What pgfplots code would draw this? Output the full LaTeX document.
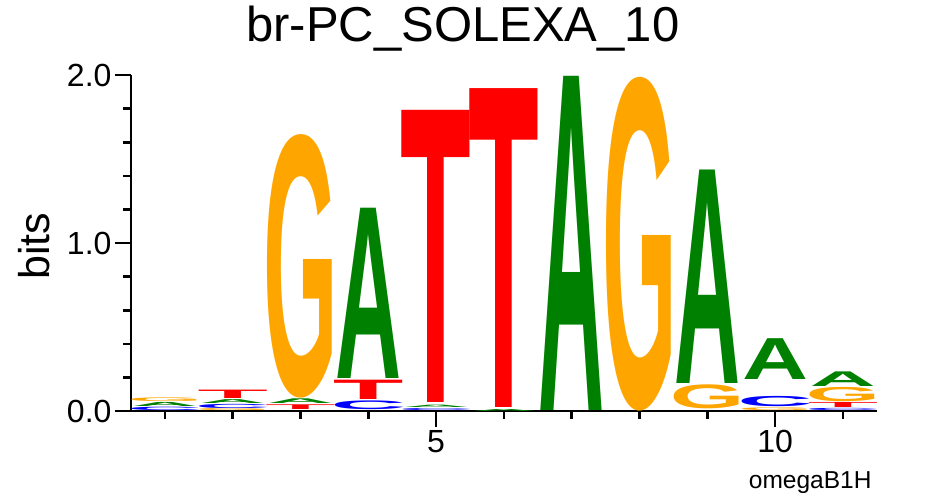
\documentclass[border=0pt]{standalone}
\usepackage{fontspec}
\setmainfont{Liberation Sans}
\usepackage{graphicx}
\usepackage{pgfplots}
\usepackage{pgfplotstable}
\pgfplotsset{compat=1.18}
\definecolor{lgreen}{RGB}{0,128,0}
\definecolor{lorange}{RGB}{255,165,0}
\definecolor{lred}{RGB}{255,0,0}
\definecolor{lblue}{RGB}{0,0,255}

% x = position, y = base of the letter (bits), h = letter height (bits)
\pgfplotstableread{
x y h
1 0.026 0.024
2 0.045 0.023
3 0.042 0.028
4 0.195 1.013
5 0.022 0.014
6 0.000 0.012
7 0.000 1.988
9 0.165 1.270
10 0.185 0.243
11 0.148 0.087
}\tabA
\pgfplotstableread{
x y h
1 0.000 0.020
2 0.015 0.025
4 0.008 0.052
5 0.000 0.012
10 0.024 0.061
11 0.000 0.013
}\tabC
\pgfplotstableread{
x y h
1 0.056 0.022
2 0.000 0.012
3 0.078 1.565
8 0.000 1.982
9 0.012 0.143
10 0.000 0.016
11 0.055 0.085
}\tabG
\pgfplotstableread{
x y h
2 0.075 0.050
3 0.008 0.028
4 0.070 0.115
5 0.048 1.738
6 0.020 1.897
11 0.020 0.030
}\tabT

\newcommand\logoletter[3]{%
  \pgfmathsetlengthmacro\hh{max(\hval*168,0.5)*1pt}%
  \resizebox*{66pt}{\hh}{\color{#2}\bfseries\kern#3#1\kern#3}}

\pgfplotsset{
  logo/.style n args={3}{
    only marks, mark=none,
    visualization depends on={\thisrow{h}\as\hval},
    nodes near coords={\logoletter{#1}{#2}{#3}},
    every node near coord/.append style={anchor=south, inner sep=0pt, outer sep=0pt},
  }
}

\begin{document}
\begin{tikzpicture}
\begin{axis}[
  x=67.8pt, y=168pt,
  xmin=0.5, xmax=11.5, ymin=0, ymax=2,
  axis x line*=bottom, axis y line*=left,
  axis line style={line width=2.8pt, black},
  tick style={line width=2.6pt, black},
  tick align=outside,
  major tick length=16pt, minor tick length=8pt,
  ytick={0,1,2}, yticklabels={0.0,1.0,2.0},
  minor ytick={0.2,0.4,0.6,0.8,1.2,1.4,1.6,1.8},
  xtick={5,10}, minor xtick={1,2,3,4,6,7,8,9,11},
  /pgf/number format/assume math mode=true,
  tick label style={font=\fontsize{32}{32}\selectfont},
  ylabel={bits},
  ylabel style={font=\fontsize{43}{43}\selectfont, at={(axis description cs:-0.130,0.49)}, anchor=center},
  title={br-PC\_SOLEXA\_10},
  title style={font=\fontsize{49}{49}\selectfont, at={(axis description cs:0.445,1.083)}, anchor=base},
  clip=false,
]
\addplot[logo={A}{lgreen}{0em}] table[x=x, y=y] {\tabA};
\addplot[logo={C}{lblue}{-0.045em}] table[x=x, y=y] {\tabC};
\addplot[logo={G}{lorange}{-0.045em}] table[x=x, y=y] {\tabG};
\addplot[logo={T}{lred}{-0.02em}] table[x=x, y=y] {\tabT};
\node[anchor=base east, font=\fontsize{24.5}{24.5}\selectfont, yshift=-77.5pt] at (axis description cs:0.9976,0) {omegaB1H};
\end{axis}
\pgfresetboundingbox
\path (-131pt,-85pt) rectangle (794pt,411pt);
\end{tikzpicture}
\end{document}
